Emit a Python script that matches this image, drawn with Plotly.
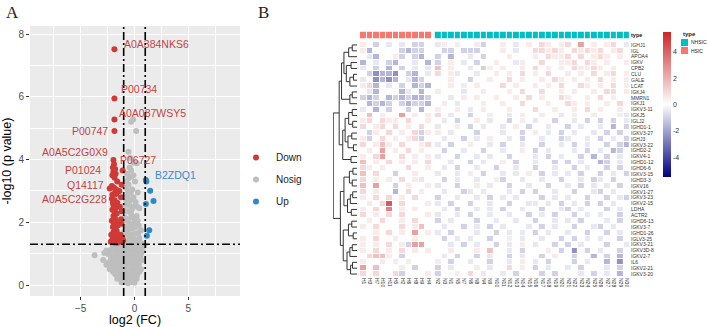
import math
import plotly.graph_objects as go

# ================= Panel A : volcano data =================
down_x = [-1.86, -1.86, -1.86, -1.86, -1.95, -1.9, -2.0, -1.8, -1.95, -1.75, -2.05, -1.85, -1.1, -1.6,
          -2.1, -1.9, -1.7, -2.3, -1.8, -2.05, -2.1, -1.85, -1.6, -1.25, -1.95, -1.75, -2.05, -1.85,
          -1.65, -1.2, -1.95, -1.8, -2.1, -1.7, -1.9, -1.55, -1.2, -2.0, -1.8, -1.65, -1.95, -2.15,
          -1.75, -1.55, -1.3, -1.9, -2.05, -1.7, -1.45, -2.2, -1.85, -1.15, -1.35, -1.6, -1.05,
          -1.2, -1.35, -1.25, -1.4, -2.0, -1.7, -1.9]
down_y = [7.52, 5.95, 5.28, 4.91, 3.99, 3.85, 3.75, 3.7, 3.62, 3.55, 3.5, 3.42, 3.65, 3.3,
          3.16, 3.1, 3.05, 3.08, 2.95, 2.88, 2.75, 2.7, 2.62, 2.8, 2.55, 2.45, 2.4, 2.33,
          2.28, 2.35, 2.2, 2.12, 2.05, 2.0, 1.95, 1.9, 1.95, 1.85, 1.8, 1.72, 1.68, 1.6,
          1.58, 1.55, 1.6, 1.5, 1.45, 1.42, 1.45, 1.38, 1.36, 1.5, 1.38, 1.35, 1.42,
          3.2, 2.5, 2.1, 3.0, 2.62, 2.9, 2.48]

up_x = [1.06, 1.46, 1.77, 1.06, 1.37, 1.15, 1.1]
up_y = [3.35, 3.01, 2.68, 2.58, 1.75, 1.57, 3.3]

nosig_x = [-0.31, -0.12, 0.16, -0.56, -0.09, 0.2, -0.45, -0.7, -0.3, 0.05, -0.55, -0.85, -0.2, 0.3,
           -0.65, -0.4, 0.1, -0.8, -0.15, 0.45, -0.55, -0.3, 0.2, -0.9, -0.7, 0.0, -0.45, 0.4,
           -0.85, -0.2, 0.6, -0.6, 0.15, -0.35, -0.95, 0.45, -0.1, -0.75, -0.5, 0.25, 0.65, -0.25,
           -0.9,
           -0.6, -0.35, -0.75, -0.1, -0.5, 0.25, -0.25, -0.8, -0.55, -0.1, 0.3, -0.35, -0.7, 0.1,
           -0.95, 0.35, -0.15, -0.6, 0.05, -0.4, -0.55, -0.3, -0.75, -0.1, -0.4,
           -2.0, -1.7, -1.3, -0.9, -0.6, -0.3, 0.0, 0.3, 0.6, 0.9,
           -2.6, -2.2, -1.8, -1.5, -1.1, -0.8, -0.5, -0.2, 0.1, 0.45, 0.75,
           -3.7, -2.4, -2.0, -1.6, -1.3, -1.0, -0.7, -0.4, -0.1, 0.2, 0.55,
           -2.9, -2.2, -1.9, -1.5, -1.2, -0.9, -0.6, -0.3, 0.0, 0.3, 0.7,
           -2.6, -2.1, -1.7, -1.4, -1.1, -0.8, -0.5, -0.2, 0.1, 0.4,
           -2.3, -1.9, -1.5, -1.2, -0.9, -0.6, -0.3, 0.0, 0.3, 0.6,
           -1.8, -1.5, -1.2, -0.9, -0.6, -0.3, 0.0, 0.25,
           -1.6, -1.3, -1.0, -0.7, -0.4, -0.1, 0.2,
           -1.2, -0.9, -0.6, -0.3, 0.0,
           -1.5, -1.1, -0.45, 0.15, -1.75, -0.85, -0.25, 0.4, -1.95, -1.0, -0.4, 0.2,
           -1.4, -0.8, -0.2, -2.4, -1.3, -0.1, -2.0, -1.05, -0.15, 0.45,
           -2.8, -1.4, -0.6, 0.05, 0.65]
nosig_y = [5.21, 5.28, 4.91, 4.25, 3.91, 3.88, 3.75, 3.55, 3.45, 3.3, 3.2, 3.1, 3.05, 2.95,
           2.85, 2.7, 2.65, 2.55, 2.5, 2.45, 2.35, 2.25, 2.2, 2.15, 2.05, 2.0, 1.95, 1.9,
           1.85, 1.8, 1.75, 1.7, 1.65, 1.6, 1.55, 1.5, 1.48, 1.45, 1.4, 1.38, 1.33, 1.32,
           1.3,
           3.0, 2.95, 2.7, 2.8, 2.55, 2.5, 2.4, 2.35, 2.1, 2.15, 2.05, 1.9, 1.8, 1.85,
           1.7, 1.65, 1.62, 1.55, 1.42, 1.48, 3.4, 3.65, 3.3, 3.5, 4.05,
           1.25, 1.22, 1.27, 1.24, 1.26, 1.23, 1.25, 1.28, 1.22, 1.25,
           1.1, 1.12, 1.08, 1.11, 1.09, 1.13, 1.1, 1.07, 1.12, 1.1, 1.09,
           0.95, 0.97, 0.93, 0.96, 0.94, 0.98, 0.95, 0.92, 0.97, 0.95, 0.94,
           0.8, 0.82, 0.78, 0.81, 0.79, 0.83, 0.8, 0.77, 0.82, 0.8, 0.79,
           0.65, 0.67, 0.63, 0.66, 0.64, 0.68, 0.65, 0.62, 0.67, 0.65,
           0.5, 0.52, 0.48, 0.51, 0.49, 0.53, 0.5, 0.47, 0.52, 0.5,
           0.35, 0.37, 0.33, 0.36, 0.34, 0.38, 0.35, 0.32,
           0.2, 0.22, 0.18, 0.21, 0.19, 0.23, 0.2,
           0.08, 0.1, 0.06, 0.09, 0.07,
           1.18, 1.18, 1.18, 1.18, 0.88, 0.88, 0.88, 0.88, 0.58, 0.58, 0.58, 0.58,
           0.28, 0.28, 0.28, 0.72, 0.72, 0.72, 0.42, 0.42, 0.42, 0.42,
           1.02, 1.02, 1.02, 1.02, 1.02]

label_names = ["A0A384NKS6", "P00734", "A0A087WSY5", "P00747", "A0A5C2G0X9",
               "P06727", "P01024", "Q14117", "A0A5C2G228", "B2ZDQ1"]
label_groups = ["Down"] * 9 + ["Up"]

FC_CUT = 1.0
P_CUT = 0.05

# ================= Panel B : heatmap data =================
hsic_cols = ["H1", "H3", "H7", "H10", "H11", "H5", "H2", "H6", "H8", "H9", "H4"]
nhsic_cols = ["N2", "N3", "N1", "N5", "N7", "N6", "N8", "N4", "N9"] + \
             ["N10", "N11", "N12", "N13", "N14", "N15", "N16", "N17", "N18", "N19", "N20",
              "N21", "N22", "N23", "N24", "N25", "N26", "N27", "N28", "N29", "N30"]
row_labels = ["IGHJ1", "IGL", "APOA4", "IGKV", "CPB2", "CLU", "GALE", "LCAT", "IGKJ4", "MMRN1",
              "IGKJ1", "IGKV3-11", "IGKJ5", "IGLJ2", "IGHD1-1", "IGKV3-27", "IGHJ3", "IGKV3-22",
              "IGHD2-2", "IGKV4-1", "IGHD1-12", "IGHD6-6", "IGKV3-15", "IGHD3-3", "IGKV16",
              "IGKV1-27", "IGKV3-23", "IGKV2-15", "LDHA", "ACTR2", "IGHD6-13", "IGKV3-7",
              "IGHD1-26", "IGLV3-25", "IGKV3-21", "IGKV3D-8", "IGKV2-7", "IL6", "IGKV2-21",
              "IGKV3-20"]
type_names = ["NHSIC", "HSIC"]

# cell codes (row-scaled expression), HSIC | NHSIC
LEVELS = {".": 0.0, "1": 0.5, "2": 1.0, "3": 1.6, "4": 2.4, "5": 3.2, "6": 4.2,
          "a": -0.5, "b": -1.0, "c": -1.6, "d": -2.4, "e": -3.2}
heat_rows = [
    "1.b.a .a.bb . | a1.1. .1b.. 1.a.1 .21.1 2.4.1 .12.a",
    "1c... .bcbb . | .bb.b bb... 1.a.. 22121 .2121 2.12.",
    ".ac.. 1b.bc . | b.c.. a.b.. .1... 1.211 2.2.1 21.1.",
    "c.a.b c..a. c | b.1.a .b..1 ..a1. .2..1 12.21 .1..1",
    "a.b.c .b.a. a | 3.1.. a.b1. 1..1. 2.1.1 .2112 1.1..",
    ".bdcc d.bc. a | 2.1a. .a..1 .1.2. 1.2.. 1.1.2 .12.1",
    "a.dcd c.acb . | ..1.. b..1. .2.1. .1.21 .1.1. 2.1.1",
    "12c.a .b.cb c | ..1.1 .1... 2.1.. 1.1.2 ..21. 1.2.1",
    ".ac.. .ca.c . | 1...a ..1.. .1.2. .2..1 .1..1 .22.1",
    "bcb.c bcbcc b | ..a.1 .1..1 ..1.2 .1..2 1..1. 2.1..",
    ".cbcb .bcbb c | .1.a. ..1.. 1..2. ..1.. 21.1. .1.2.",
    "a.c.b ..b.c . | 1..1. a.1.. .1... 2..1. .1.2. 1..1.",
    ".3.1. .4.1. 1 | 2.a.. b..1. .a.1. .1..a .1..1 ...1a",
    "12.21 1.2.. 1 | .a.b. .1.a. .b.1. a..b. .a.b. b.b.a",
    "2.12. 2.1.2 . | a..1. b.a.. a.1.b ..a.. b.a.. a.c.b",
    ".b1.2 .1.2b 1 | 1.a.. .b... a..b. 1.a.b .a..a .b.b.",
    "1b.2. 1.12b . | .a..b .a.1. .a.b. .a..b a..a. b.a.b",
    "2.131 .2..1 2 | a.b.. 1..a. b..a. .b..a .b.a. .b.bc",
    ".1.4. 1.2.1 . | .b..a ..b.. a..1. b.a.. .a.b. a.cb.",
    "1.24. .2.1. 1 | a..b. .a.a. .b... a.b.a ..b.c .b.a.",
    "3.1.2 .1.1. 2 | ..a.. b.a.. 1.b.. a..b. b.a.. cb.a.",
    "21.1. ..2.. 1 | .a.b. .a..b ..a.. b..a. .b.a. .b.b.",
    "3.2.. b..1. . | a..a. 1.b.. a.a.1 .b.a. a.b.. b.a.b",
    "2.1.1 .2.1a . | .b.a. .a..1 b..a. .a..b ..a.b a.b..",
    "3.4.. b.1.. 1 | a..b. .1.a. .b..a ..b.. a.b.a .a.b.",
    "2.1.. c.2.1 . | .a..b a.a.. .a.b. b..a. .b..a b.a..",
    "1.2.2 .1.2. . | b..a. .a.b. a.a.. .b.a. a..b. .b.ab",
    ".1.26 .2... 1 | a.b.. b..a. .b..a a.a.b .a.b. b.a..",
    "1.2.5 .1.1. . | .a.b. .a.a. b..a. .b..a b.a.. .b.a.",
    "2.1.2 .2... 1 | a..a. b..a. .a..b .a.b. .b.a. a..b.",
    ".1.2. .1.2. . | b.a.. .b..a ..a.. b..a. a.b.. .a.b.",
    "1.2.. .2.13 . | .a..b .a.b. a...a .b.a. .b..a b.a..",
    "..1.2 .1.4. 1 | a.b.. .a..b .a.a. b.a.. a..b. .b.a.",
    "1.2.. 1..1. . | .b.a. a..b. .1.a. .a..b .b.a. a..b.",
    "1.1.2 .1b44 . | ..a.b .a..b .a.1. a..b. b.a.. .b..a",
    "1.2.1 .2.1. 1 | ..1.. .1.3. .a.b. ..1.b .d.b. a..b.",
    ".2331 .b... . | .a.b. .b.a. .b.a. .b.1. .b..c .b.c.",
    "1..1. 1.1.. . | 1.b.. a..b. .a.1. a.b.. .b.a. .c.d.",
    "4.3.. .1.b. . | b.a.. .1.a. .2.1. b.a.. a.b.. .a.b.",
    "2.2.. 2b... 1 | b..1. 2.a.. a.b.. .b.b. ..a.b .a.c.",
]

# row dendrogram: [height, left, right], leaves = row index
tree = [10,
        [7.5,
         [6.5,
          [5.5, [3.5, [2, 0, 1], 2], [4.5, [2.5, 3, 4], [3, [1.5, 5, 6], 7]]],
          [3, [2, 8, 9], 10]],
         [6,
          [5, [3.5, [2, 11, 12], [1.8, 13, 14]], [3.8, [2.2, 15, 16], [1.5, 17, 18]]],
          [2.5, 19, 20]]],
        [7,
         [5.5, [3.2, [1.7, 21, 22], [2, 23, 24]], [4, [2.8, [1.8, 25, 26], 27], [2.4, 28, 29]]],
         [5.8, [3.6, [2.2, 30, 31], [1.6, 32, 33]],
          [4.2, [3, [2, 34, 35], 36], [2.7, [1.9, 37, 38], 39]]]]]

# ================= build =================
W, H = 708, 327
def px_x(p): return p / W
def px_y(p): return 1 - p / H

RED, GREY, BLUE = "#CF3A36", "#BEBEBE", "#2F89C5"
FONT = "Liberation Sans, Arial, sans-serif"
C_HSIC, C_NHSIC = "#F8766D", "#00BFC4"

fig = go.Figure()

# --- volcano
fig.add_trace(go.Scatter(x=nosig_x, y=nosig_y, mode="markers", name="Nosig", legendrank=2,
                         legendgroup="n", marker=dict(color=GREY, size=6, line=dict(width=0)),
                         xaxis="x", yaxis="y", hoverinfo="skip"))
fig.add_trace(go.Scatter(x=down_x, y=down_y, mode="markers", name="Down", legendrank=1,
                         legendgroup="d", marker=dict(color=RED, size=6, line=dict(width=0)),
                         xaxis="x", yaxis="y", hoverinfo="skip"))
fig.add_trace(go.Scatter(x=up_x, y=up_y, mode="markers", name="Up", legendrank=3,
                         legendgroup="u", marker=dict(color=BLUE, size=6, line=dict(width=0)),
                         xaxis="x", yaxis="y", hoverinfo="skip"))

# label placement (layout only): anchor x, y, side
label_pos = {
    "A0A384NKS6": (-1.2, 7.70, "left"),
    "P00734": (-1.45, 6.24, "left"),
    "A0A087WSY5": (-1.65, 5.49, "left"),
    "P00747": (-2.25, 4.91, "right"),
    "A0A5C2G0X9": (-2.25, 4.23, "right"),
    "P06727": (-1.5, 4.0, "left"),
    "P01024": (-2.9, 3.67, "right"),
    "Q14117": (-2.6, 3.19, "right"),
    "A0A5C2G228": (-2.4, 2.75, "right"),
    "B2ZDQ1": (1.7, 3.51, "left"),
}
for name, grp in zip(label_names, label_groups):
    lx, ly, side = label_pos[name]
    fig.add_annotation(x=lx, y=ly, xref="x", yref="y", text=name, showarrow=False,
                       xanchor=side, yanchor="middle",
                       font=dict(family=FONT, size=10.5,
                                 color="#C4433F" if grp == "Down" else "#3A8ACB"))

p_line = -math.log10(P_CUT)
dash = "8px,3px,2px,3px"
for xv in (-FC_CUT, FC_CUT):
    fig.add_shape(type="line", xref="x", yref="y domain", x0=xv, x1=xv, y0=0, y1=1,
                  line=dict(color="black", width=1.6, dash=dash), layer="above")
fig.add_shape(type="line", xref="x domain", yref="y", x0=0, x1=1, y0=p_line, y1=p_line,
              line=dict(color="black", width=1.6, dash=dash), layer="above")
fig.add_shape(type="rect", xref="x domain", yref="y domain", x0=0, x1=1, y0=0, y1=1,
              fillcolor="#EBEBEB", line=dict(width=0), layer="below")

# --- heatmap
n_h = len(hsic_cols)
rows = [r.replace(" ", "").replace("|", "") for r in heat_rows]
for r in rows:
    assert len(r) == n_h + len(nhsic_cols), (r, len(r))
z_h = [[LEVELS[c] for c in r[:n_h]] for r in rows]
z_n = [[LEVELS[c] for c in r[n_h:]] for r in rows]
GAP = 0.5
x_h = list(range(n_h))
x_n = [n_h + GAP + i for i in range(len(nhsic_cols))]
y_rows = list(range(len(row_labels)))

fig.add_trace(go.Heatmap(z=z_h, x=x_h, y=y_rows, coloraxis="coloraxis", xgap=1, ygap=1,
                         xaxis="x2", yaxis="y2", hoverinfo="skip"))
fig.add_trace(go.Heatmap(z=z_n, x=x_n, y=y_rows, coloraxis="coloraxis", xgap=1, ygap=1,
                         xaxis="x2", yaxis="y2", hoverinfo="skip"))

fig.add_trace(go.Heatmap(z=[[0] * n_h], x=x_h, y=[0], showscale=False, xgap=1,
                         colorscale=[[0, C_HSIC], [1, C_HSIC]], xaxis="x2", yaxis="y3",
                         hoverinfo="skip"))
fig.add_trace(go.Heatmap(z=[[0] * len(nhsic_cols)], x=x_n, y=[0], showscale=False, xgap=1,
                         colorscale=[[0, C_NHSIC], [1, C_NHSIC]], xaxis="x2", yaxis="y3",
                         hoverinfo="skip"))

# dendrogram from tree
dx, dy = [], []
def walk(node):
    if isinstance(node, int):
        return float(node), 0.0
    h, l, r = node
    yl, hl = walk(l)
    yr, hr = walk(r)
    dx.extend([hl, h, h, hr, None])
    dy.extend([yl, yl, yr, yr, None])
    return (yl + yr) / 2, h
walk(tree)
fig.add_trace(go.Scatter(x=dx, y=dy, mode="lines", line=dict(color="#333333", width=1),
                         xaxis="x3", yaxis="y2", showlegend=False, hoverinfo="skip"))

# annotation legend ("type") drawn as small boxes
fig.add_annotation(x=px_x(681), y=px_y(34), xref="paper", yref="paper", text="<b>type</b>",
                   showarrow=False, xanchor="left", yanchor="middle",
                   font=dict(family=FONT, size=6, color="#222222"))
for i, (nm, col) in enumerate(zip(type_names, [C_NHSIC, C_HSIC])):
    top = 39 + i * 8
    fig.add_shape(type="rect", xref="paper", yref="paper", x0=px_x(681), x1=px_x(688),
                  y0=px_y(top + 7), y1=px_y(top), fillcolor=col, line=dict(width=0))
    fig.add_annotation(x=px_x(689), y=px_y(top + 3.5), xref="paper", yref="paper", text=nm,
                       showarrow=False, xanchor="left", yanchor="middle",
                       font=dict(family=FONT, size=5, color="#222222"))

axis_common = dict(showline=False, zeroline=False)
fig.update_layout(
    width=W, height=H, autosize=False, margin=dict(l=0, r=0, t=0, b=0, autoexpand=False),
    paper_bgcolor="white", plot_bgcolor="white",
    font=dict(family=FONT, color="#333333"),
    showlegend=True,
    xaxis=dict(domain=[px_x(30), px_x(240)], range=[-9.7, 9.8], anchor="y",
               tickvals=[-5, 0, 5], ticks="outside", ticklen=3, tickcolor="#333333",
               tickfont=dict(size=10, color="#4D4D4D"),
               showgrid=True, gridcolor="white", gridwidth=1.2,
               minor=dict(tickvals=[-7.5, -2.5, 2.5, 7.5], showgrid=True, gridcolor="white",
                          gridwidth=0.6, ticks=""),
               title=dict(text="log2 (FC)", font=dict(size=12.5, color="black"), standoff=3),
               **axis_common),
    yaxis=dict(domain=[px_y(296), px_y(26)], range=[-0.35, 8.26], anchor="x",
               tickvals=[0, 2, 4, 6, 8], ticks="outside", ticklen=3, tickcolor="#333333",
               tickfont=dict(size=10, color="#4D4D4D"),
               showgrid=True, gridcolor="white", gridwidth=1.2,
               minor=dict(tickvals=[1, 3, 5, 7], showgrid=True, gridcolor="white",
                          gridwidth=0.6, ticks=""),
               title=dict(text="-log10 (p value)", font=dict(size=12.5, color="black"), standoff=4),
               **axis_common),
    xaxis2=dict(domain=[px_x(360), px_x(630)], range=[-0.5, n_h + GAP + len(nhsic_cols) - 0.5],
                anchor="y2", tickvals=x_h + x_n, ticktext=hsic_cols + nhsic_cols, tickangle=90,
                tickfont=dict(size=5, color="#333333"), ticks="", showgrid=False, **axis_common),
    yaxis2=dict(domain=[px_y(277), px_y(42)], range=[len(row_labels) - 0.5, -0.5],
                anchor="x2", side="right", tickvals=y_rows, ticktext=row_labels,
                tickfont=dict(size=5, color="#333333"), ticks="", showgrid=False, **axis_common),
    yaxis3=dict(domain=[px_y(38.5), px_y(31.5)], range=[-0.5, 0.5], anchor="x2", side="right",
                tickvals=[0], ticktext=["<b>type</b>"], tickfont=dict(size=5.5, color="#222222"),
                ticks="", showgrid=False, **axis_common),
    xaxis3=dict(domain=[px_x(333), px_x(357)], range=[10.1, 0], anchor="y2",
                showticklabels=False, ticks="", showgrid=False, **axis_common),
    coloraxis=dict(
        colorscale=[[0, "#000080"], [0.5, "#FFFFFF"], [1, "#CD2626"]], cmin=-5.5, cmax=5.5,
        colorbar=dict(x=px_x(663), xanchor="left", y=px_y(104.5), yanchor="middle",
                      len=145, lenmode="pixels", thickness=8, thicknessmode="pixels",
                      tickvals=[-4, -2, 0, 2, 4], ticktext=["-4", "-2", "0", "2", "4"],
                      ticks="", outlinewidth=0, tickfont=dict(size=7, color="#333333"),
                      xpad=0, ypad=0)),
    legend=dict(x=px_x(236), xanchor="left", y=px_y(143), yanchor="top",
                font=dict(size=10, color="#222222"), bgcolor="rgba(0,0,0,0)",
                itemsizing="trace", tracegroupgap=3),
)

fig.add_annotation(x=px_x(4), y=px_y(12), xref="paper", yref="paper", text="A", showarrow=False,
                   xanchor="left", yanchor="middle",
                   font=dict(family="Liberation Serif, Times New Roman, serif", size=17, color="#222"))
fig.add_annotation(x=px_x(256), y=px_y(12), xref="paper", yref="paper", text="B", showarrow=False,
                   xanchor="left", yanchor="middle",
                   font=dict(family="Liberation Serif, Times New Roman, serif", size=17, color="#222"))

fig.write_html("out.html", config={"responsive": False, "displayModeBar": False},
               post_script="document.body.style.margin='0';document.body.style.overflow='hidden';")
